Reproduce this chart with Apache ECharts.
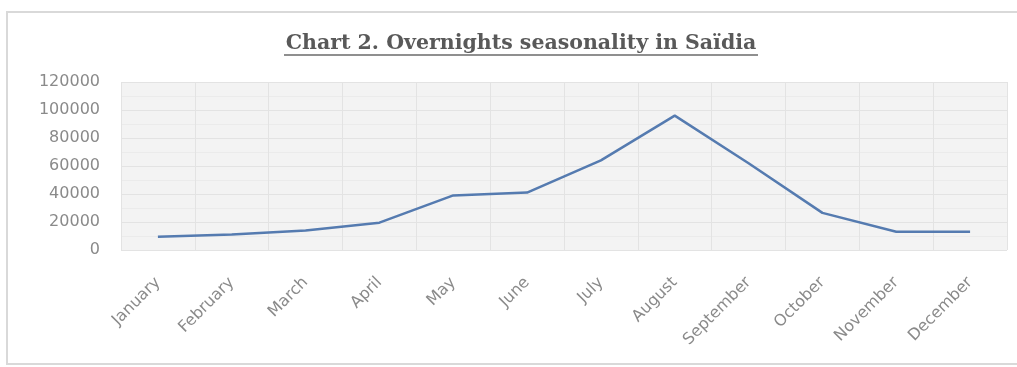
<!DOCTYPE html>
<html>
<head>
<meta charset="utf-8">
<script src="https://cdn.jsdelivr.net/npm/echarts@6/dist/echarts.min.js"></script>
<style>
  html, body { margin: 0; padding: 0; background: #ffffff; }
  #chart { width: 1017px; height: 367px; }
</style>
</head>
<body>
<div id="chart"></div>
<script>
// Monthly overnights in Saïdia
const months = ['January', 'February', 'March', 'April', 'May', 'June',
                'July', 'August', 'September', 'October', 'November', 'December'];
const overnights = [9500, 11000, 14000, 19500, 39000, 41000,
                    64000, 96000, 62000, 26500, 13000, 13000];
const yTicks = [0, 20000, 40000, 60000, 80000, 100000, 120000];
const titleText = 'Chart 2. Overnights seasonality in Saïdia';

const chart = echarts.init(document.getElementById('chart'), null, { renderer: 'canvas' });

chart.setOption({
  backgroundColor: '#ffffff',
  animation: false,
  graphic: [
    {
      // outer frame of the chart area
      type: 'rect',
      shape: { x: 7, y: 12, width: 1030, height: 352 },
      style: { fill: 'none', stroke: '#d9d9d9', lineWidth: 2 },
      silent: true
    },
    {
      type: 'text',
      x: 521,
      y: 33,
      style: {
        text: titleText,
        textAlign: 'center',
        textVerticalAlign: 'top',
        fontFamily: 'DejaVu Serif',
        fontWeight: 'bold',
        fontSize: 20.5,
        fill: '#595959'
      },
      silent: true
    },
    {
      // underline beneath the title
      type: 'line',
      shape: { x1: 284, y1: 55, x2: 758, y2: 55 },
      style: { stroke: '#6a6a6a', lineWidth: 1.5 },
      silent: true
    }
  ],
  grid: {
    left: 121,
    right: 10,
    top: 82,
    bottom: 117,
    show: true,
    backgroundColor: '#f3f3f3',
    borderWidth: 0
  },
  xAxis: {
    type: 'category',
    data: months,
    boundaryGap: true,
    axisLine: { show: false },
    axisTick: { show: false },
    splitLine: { show: true, interval: 0, lineStyle: { color: '#e3e3e3', width: 1 } },
    axisLabel: {
      rotate: 45,
      interval: 0,
      margin: 30,
      fontFamily: 'DejaVu Sans',
      fontSize: 16,
      color: '#8a8a8a'
    }
  },
  yAxis: {
    type: 'value',
    min: yTicks[0],
    max: yTicks[yTicks.length - 1],
    interval: yTicks[1] - yTicks[0],
    axisLine: { show: false },
    axisTick: { show: false },
    minorTick: { show: false, splitNumber: 2 },
    minorSplitLine: { show: true, lineStyle: { color: '#ebebeb', width: 1 } },
    splitLine: { show: true, lineStyle: { color: '#e3e3e3', width: 1 } },
    axisLabel: {
      margin: 21,
      fontFamily: 'DejaVu Sans',
      fontSize: 16,
      color: '#8a8a8a',
      formatter: (v) => String(v)
    }
  },
  series: [
    {
      type: 'line',
      data: overnights,
      symbol: 'none',
      smooth: false,
      lineStyle: { color: '#557bb0', width: 2.5 }
    }
  ]
});
</script>
</body>
</html>
